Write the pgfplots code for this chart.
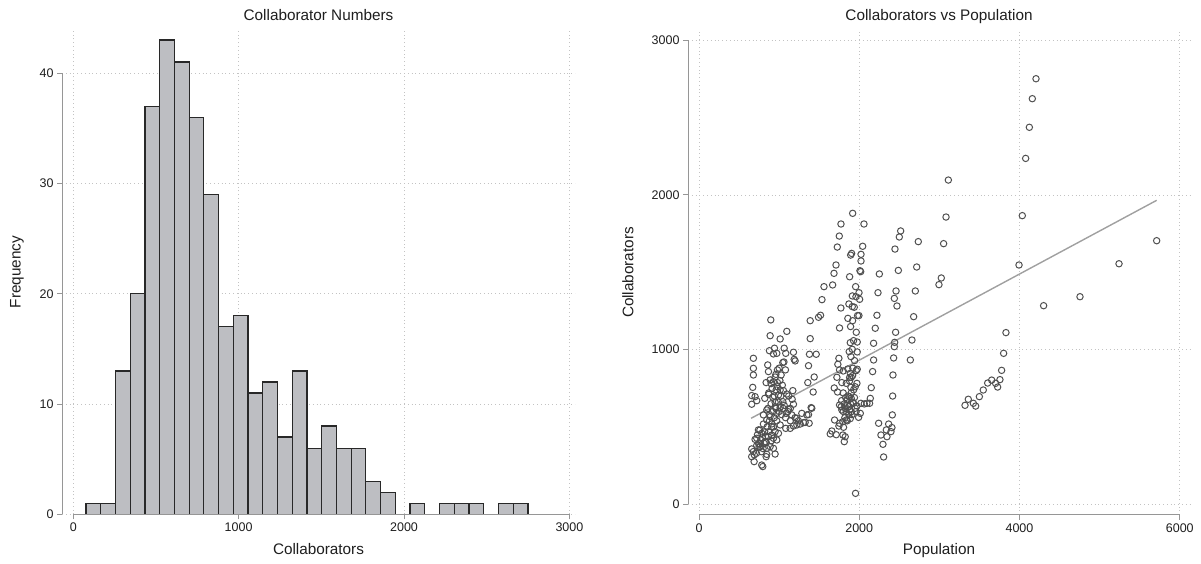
\documentclass[border=0pt]{standalone}
\usepackage{fontspec}
\setmainfont{Liberation Sans}
\usepackage{pgfplots}
\pgfplotsset{compat=1.18}
\definecolor{barfill}{RGB}{189,190,194}
\definecolor{baredge}{RGB}{40,40,40}
\definecolor{gridc}{RGB}{195,195,195}
\definecolor{axc}{RGB}{150,150,150}
\definecolor{markc}{RGB}{80,80,80}
\definecolor{fitc}{RGB}{160,160,160}
\definecolor{txt}{RGB}{30,30,30}
\pgfplotsset{
  stataaxis/.style={
    scale only axis,
    anchor=south west,
    clip=false,
    axis line style={draw=none},
    tick pos=left,
    tick align=outside,
    major tick length=5pt,
    every tick/.style={axc, line width=0.9pt},
    grid=major,
    major grid style={gridc, line width=0.7pt, dash pattern=on 0.8pt off 3pt},
    scaled ticks=false,
    /pgf/number format/assume math mode=true,
    /pgf/number format/1000 sep={},
    ticklabel style={font=\fontsize{12.5}{14}\selectfont, text=txt},
    label style={font=\fontsize{15.3}{17}\selectfont, text=txt},
    title style={font=\fontsize{15.3}{17}\selectfont, text=txt, at={(axis description cs:0.5,1)}, anchor=base, yshift=3.5pt},
    xlabel style={at={(axis description cs:0.5,0)}, anchor=base, yshift=-40pt},
  },
}
\begin{document}
\begin{tikzpicture}
\path (0pt,0pt) rectangle (1201pt,564pt);
% ---------------- Left: histogram ----------------
\begin{axis}[stataaxis,
  at={(62pt,49.7pt)}, width=513pt, height=484.3pt,
  xmin=-68, xmax=3033.6, ymin=0, ymax=43.91,
  xtick={0,1000,2000,3000}, ytick={0,10,20,30,40},
  title={Collaborator Numbers},
  xlabel={Collaborators}, ylabel={Frequency},
  ylabel style={at={(axis description cs:-0.0877,0.5)}, anchor=center},
]
\addplot[ybar interval, fill=barfill, draw=baredge, line width=1.2pt] coordinates {
(77.00,1) (166.07,1) (255.14,13) (344.21,20) (433.28,37) (522.35,43)
(611.42,41) (700.49,36) (789.56,29) (878.63,17) (967.70,18) (1056.77,11)
(1145.84,12) (1234.91,7) (1323.98,13) (1413.05,6) (1502.12,8) (1591.19,6)
(1680.26,6) (1769.33,3) (1858.40,2) (1947.47,0) (2036.54,1) (2125.61,0)
(2214.68,1) (2303.75,1) (2392.82,1) (2481.89,0) (2570.96,1) (2660.03,1)
(2749.10,1)
};
\draw[axc, line width=1pt] (axis cs:-68,0) -- (axis cs:-68,40);
\draw[axc, line width=1pt] (axis cs:0,0) -- (axis cs:3000,0);
\end{axis}
% ---------------- Right: scatter ----------------
\begin{axis}[stataaxis,
  at={(688pt,49pt)}, width=502pt, height=485pt,
  xmin=-137, xmax=6128, ymin=-69, ymax=3066,
  xtick={0,2000,4000,6000}, ytick={0,1000,2000,3000},
  title={Collaborators vs Population},
  xlabel={Population}, ylabel={Collaborators},
  ylabel style={at={(axis description cs:-0.1195,0.5)}, anchor=center},
]
\addplot[only marks, mark=o, mark size=3.2pt, mark options={draw=markc, line width=1pt}] coordinates {
(679,944) (679,879) (679,836) (671,756) (658,703) (700,696) (658,647) (721,670)
(896,1192) (888,1090) (1013,1069) (1096,1118) (879,993) (942,1009) (1063,1009)
(929,972) (971,976) (1083,976) (1179,983) (1188,937) (1200,927) (1046,916)
(858,901) (979,869) (867,858) (1079,869) (1025,836) (950,823) (838,787)
(888,804) (929,793) (979,787) (913,750) (963,739) (1013,739) (1054,735)
(1171,735) (871,711) (821,685) (921,692) (992,707) (1096,713) (1046,664)
(1163,679) (1179,647) (1117,614) (1063,640) (1013,627) (950,631) (846,610)
(804,578) (888,567) (971,588) (1088,588) (1158,578) (1221,556) (1283,588)
(1346,578) (1408,621) (1304,528) (1263,519) (1221,513) (1179,506) (1138,491)
(1083,491) (1013,513) (950,470) (992,459) (908,502) (846,545) (804,519)
(742,481) (783,459) (721,427) (771,416) (825,405) (867,437) (908,448)
(929,427) (971,416) (888,373) (846,362) (929,362) (950,325) (658,358)
(679,341) (717,330) (763,373) (658,308) (688,276) (783,254) (796,244)
(838,308) (846,323) (742,394) (813,394)
(700,420) (730,450) (760,480) (790,430) (820,470) (850,500) (880,540) (910,520)
(940,560) (970,540) (1000,600) (1030,580) (760,390) (800,360) (830,440) (870,470)
(900,410) (930,500) (960,620) (990,660) (1020,700) (1050,620) (1080,560) (1110,600)
(1140,540) (860,620) (900,650) (940,700) (980,760) (1010,800) (1040,770) (1120,700)
(880,580) (920,600) (950,660) (840,400) (780,340) (750,370) (720,380) (690,320)
(870,720) (900,780) (960,840) (1000,880) (1060,920) (1140,620) (1200,560) (1240,540)
(1388,1187) (1492,1209) (1517,1222) (1388,1071) (1379,970) (1367,896) (1463,970)
(1438,823) (1358,787) (1425,726) (1400,625) (1367,580) (1375,524) (1325,530)
(1560,1407) (1535,1323)
(1771,1269) (1871,1295) (1913,1278) (1938,1274) (1754,1140) (1858,1202) (1892,1149)
(1917,1187) (1963,1112) (1979,1220) (1996,1220) (1888,1045) (1929,1058) (1975,1049)
(1913,1002) (1975,985) (1875,987) (1896,955) (1942,929) (1746,944) (1733,905)
(1754,869) (1800,862) (1858,875) (1888,847) (1917,832) (1963,864) (1975,873)
(1971,782) (1900,821) (1879,797) (1838,782) (1783,787) (1721,821) (1688,752)
(1729,726) (1896,756) (1754,642) (1775,631) (1813,649) (1846,675) (1879,696)
(1900,685) (1929,653) (1871,631) (1825,621) (1783,610) (1838,599) (1900,599)
(1950,621) (1971,636) (2021,653) (2063,649) (2096,653) (2129,653) (2138,685)
(2013,588) (1992,562) (1888,554) (1838,545) (1796,534) (1754,524) (1692,545)
(1746,506) (1804,498) (1658,474) (1638,455) (1713,450) (1796,448) (1825,437)
(1813,405) (1954,71)
(1800,600) (1850,640) (1880,610) (1920,660) (1860,700) (1900,720) (1940,690) (1820,560)
(1870,580) (1960,600) (1780,670) (1830,690) (1910,580) (1890,650) (1850,540) (1930,740)
(1800,720) (1950,760) (1880,820) (1920,880)
(2179,1041) (2200,1138) (2221,1222) (2179,933) (2167,858) (2150,754) (2242,524)
(2271,448) (2296,388) (2304,306) (2346,437) (2367,519) (2396,470) (2408,496)
(2338,481) (2413,578) (2417,700) (2421,836) (2429,946) (2438,1019) (2442,1047)
(2454,1112) (2471,1282) (2679,1213) (2658,1062) (2638,933)
(1918,1881) (1772,1812) (2059,1812) (1751,1734) (1726,1663) (2043,1668) (1905,1622)
(1893,1611) (2022,1616) (2022,1573) (1710,1547) (1685,1493) (2009,1510) (2018,1504)
(2251,1489) (1668,1418) (1880,1471) (1955,1407) (1997,1368) (1914,1347) (1959,1342)
(2005,1325) (2234,1368) (2446,1650) (2500,1728) (2517,1767) (2737,1698) (2488,1512)
(2717,1534) (2459,1379) (2438,1331) (2700,1379)
(3112,2096) (3083,1857) (3053,1685) (3024,1463) (2995,1420)
(3831,1110) (3802,976) (3777,866) (3756,806) (3653,803) (3603,784) (3548,739)
(3499,696) (3361,679) (3320,640) (3424,653) (3453,635) (3702,782) (3727,758)
(3994,1547) (4035,1866) (4077,2236) (4301,1284) (4755,1342)
(4206,2751) (4160,2622) (4123,2437) (5242,1555) (5712,1704)
};
\addplot[fitc, line width=1.4pt] coordinates {(650,556) (5712,1965)};
\draw[axc, line width=1pt] (axis cs:-137,0) -- (axis cs:-137,3000);
\draw[axc, line width=1pt] (axis cs:0,-69) -- (axis cs:6000,-69);
\end{axis}
\end{tikzpicture}
\end{document}
